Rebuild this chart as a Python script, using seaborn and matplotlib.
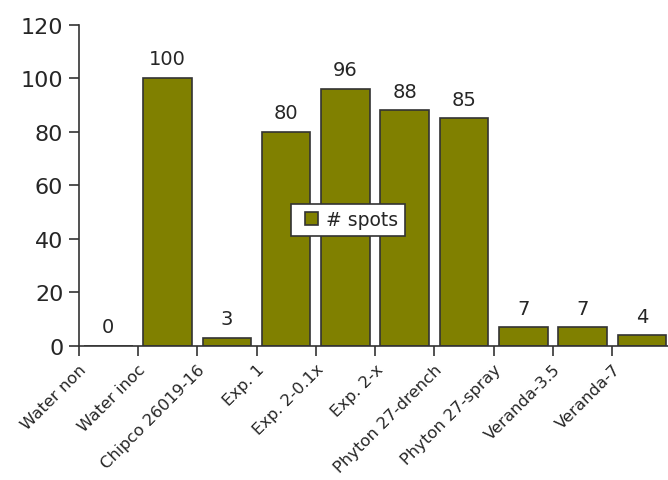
import matplotlib
matplotlib.use("Agg")
import matplotlib.pyplot as plt
import matplotlib.transforms as mtransforms
from matplotlib.legend_handler import HandlerPatch
from matplotlib.patches import Rectangle
import seaborn as sns
import numpy as np
import pandas as pd

categories = ["Water non", "Water inoc", "Chipco 26019-16", "Exp. 1", "Exp. 2-0.1x",
              "Exp. 2-x", "Phyton 27-drench", "Phyton 27-spray", "Veranda-3.5", "Veranda-7"]
spots = [0, 100, 3, 80, 96, 88, 85, 7, 7, 4]
series_name = "# spots"
yticks = [0, 20, 40, 60, 80, 100, 120]

sns.set_theme(style="white")
plt.rcParams['font.family'] = ['DejaVu Sans']
TXT = "#262626"
BAR = "#808000"
EDGE = "#333333"

df = pd.DataFrame({"cat": categories, "val": spots})

fig = plt.figure(figsize=(6.68, 4.81), dpi=100)
W, H = 668, 481
x0, x1 = 78.6, 671.6
y0, y1 = 347.0, 25.5
ax = fig.add_axes([x0 / W, (H - y0) / H, (x1 - x0) / W, (y0 - y1) / H])

sns.barplot(data=df, x="cat", y="val", color=BAR, edgecolor=EDGE,
            linewidth=1.2, width=0.82, saturation=1, ax=ax)

ax.set_xlim(-0.5, len(categories) - 0.5)
ax.set_ylim(0, 120)
ax.set_yticks(yticks)
ax.set_yticklabels([str(t) for t in yticks], fontsize=16, color=TXT)
ax.set_xlabel("")
ax.set_ylabel("")

for c in ax.containers:
    ax.bar_label(c, labels=[str(v) for v in spots], padding=7, fontsize=14, color=TXT)

# ticks at category boundaries, labels anchored at boundaries
ax.set_xticks(np.arange(len(categories)) - 0.5)
ax.set_xticklabels(categories, rotation=45, ha="right", va="top",
                   rotation_mode="anchor", fontsize=11.8, color=TXT)
offset = mtransforms.ScaledTranslation(18 / 100, 3 / 100, fig.dpi_scale_trans)
for lab in ax.get_xticklabels():
    lab.set_transform(lab.get_transform() + offset)

for s in ["top", "right"]:
    ax.spines[s].set_visible(False)
for s in ["left", "bottom"]:
    ax.spines[s].set_color(EDGE)
    ax.spines[s].set_linewidth(1.2)
ax.tick_params(axis="both", direction="out", length=7, width=1.2, color=EDGE,
               bottom=True, left=True, pad=4)


def square_patch(legend, orig_handle, xdescent, ydescent, width, height, fontsize):
    side = min(0.7 * fontsize, width)
    return Rectangle((-xdescent + width - side, -ydescent + (height - side) / 2), side, side)


handle = Rectangle((0, 0), 1, 1, facecolor=BAR, edgecolor=EDGE, linewidth=1.2)
leg = ax.legend(handles=[handle], labels=[series_name],
                loc="center", bbox_to_anchor=(0.454, 0.392), frameon=True,
                fancybox=False, fontsize=13.5, handlelength=1.1, handleheight=0.7,
                handletextpad=0.45, borderpad=0.35, borderaxespad=0, framealpha=1,
                labelcolor=TXT,
                handler_map={Rectangle: HandlerPatch(patch_func=square_patch)})
leg.get_frame().set_edgecolor(EDGE)
leg.get_frame().set_linewidth(1.2)

fig.savefig("out.png", dpi=100)
